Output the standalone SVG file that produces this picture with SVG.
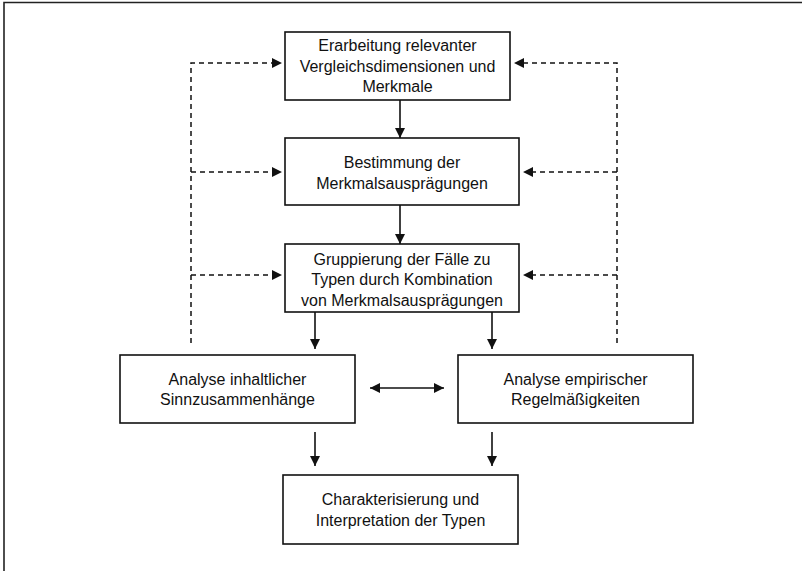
<svg xmlns="http://www.w3.org/2000/svg" width="802" height="571" viewBox="0 0 802 571">
<style>
.box{fill:#fff;stroke:#111;stroke-width:1.6}
.t{font-family:"Liberation Sans",Arial,sans-serif;font-size:16px;fill:#111;text-anchor:middle}
.ln{fill:none;stroke:#111;stroke-width:1.6}
.ds{fill:none;stroke:#111;stroke-width:1.5;stroke-dasharray:5,4}
</style>
<defs>
<marker id="ah" viewBox="0 0 10 10" refX="10" refY="5" markerWidth="10" markerHeight="10" markerUnits="userSpaceOnUse" orient="auto">
<path d="M0,0 L10,5 L0,10 Z" fill="#111"/>
</marker>
<marker id="ahs" viewBox="0 0 10 10" refX="0" refY="5" markerWidth="10" markerHeight="10" markerUnits="userSpaceOnUse" orient="auto">
<path d="M10,0 L0,5 L10,10 Z" fill="#111"/>
</marker>
</defs>
<rect width="802" height="571" fill="#fff"/>
<path d="M4,571 V2.5 H802" fill="none" stroke="#222" stroke-width="1.6"/>
<g id="connectors">
<line class="ln" x1="400" y1="100" x2="400" y2="138" marker-end="url(#ah)"/>
<line class="ln" x1="400" y1="205" x2="400" y2="244" marker-end="url(#ah)"/>
<line class="ln" x1="315" y1="312" x2="315" y2="349" marker-end="url(#ah)"/>
<line class="ln" x1="492" y1="312" x2="492" y2="349" marker-end="url(#ah)"/>
<line class="ln" x1="370" y1="388" x2="444" y2="388" marker-start="url(#ahs)" marker-end="url(#ah)"/>
<line class="ln" x1="315" y1="432" x2="315" y2="466" marker-end="url(#ah)"/>
<line class="ln" x1="492" y1="432" x2="492" y2="466" marker-end="url(#ah)"/>
<path class="ds" d="M191,343 V63 H272"/>
<line class="ds" x1="191" y1="172" x2="272" y2="172"/>
<line class="ds" x1="191" y1="275" x2="272" y2="275"/>
<path d="M272,68 L282,63 L272,58 Z M272,177 L282,172 L272,167 Z M272,280 L282,275 L272,270 Z" fill="#111"/>
<path class="ds" d="M617,343 V63 H524"/>
<line class="ds" x1="617" y1="172" x2="533" y2="172"/>
<line class="ds" x1="617" y1="275" x2="533" y2="275"/>
<path d="M524,68 L514,63 L524,58 Z M533,177 L523,172 L533,167 Z M533,280 L523,275 L533,270 Z" fill="#111"/>
</g>
<g id="n1">
<rect class="box" x="285" y="32" width="225" height="68"/>
<text class="t" x="397.5" y="51">Erarbeitung relevanter</text>
<text class="t" x="397.5" y="71.5">Vergleichsdimensionen und</text>
<text class="t" x="397.5" y="92">Merkmale</text>
</g>
<g id="n2">
<rect class="box" x="285" y="138" width="234" height="67"/>
<text class="t" x="402" y="168">Bestimmung der</text>
<text class="t" x="402" y="188.5">Merkmalsausprägungen</text>
</g>
<g id="n3">
<rect class="box" x="285" y="244" width="234" height="68"/>
<text class="t" x="402" y="264.5">Gruppierung der Fälle zu</text>
<text class="t" x="402" y="285">Typen durch Kombination</text>
<text class="t" x="402" y="305.5">von Merkmalsausprägungen</text>
</g>
<g id="n4">
<rect class="box" x="120" y="355" width="235" height="68"/>
<text class="t" x="237.5" y="385">Analyse inhaltlicher</text>
<text class="t" x="237.5" y="405">Sinnzusammenhänge</text>
</g>
<g id="n5">
<rect class="box" x="458" y="355" width="235" height="68"/>
<text class="t" x="575.5" y="385">Analyse empirischer</text>
<text class="t" x="575.5" y="405">Regelmäßigkeiten</text>
</g>
<g id="n6">
<rect class="box" x="283" y="475" width="235" height="69"/>
<text class="t" x="400.5" y="505">Charakterisierung und</text>
<text class="t" x="400.5" y="525.5">Interpretation der Typen</text>
</g>
</svg>
